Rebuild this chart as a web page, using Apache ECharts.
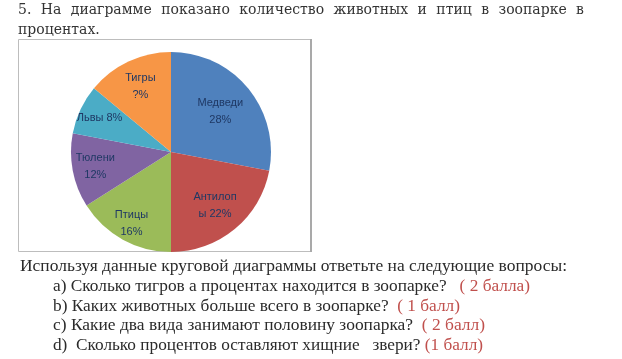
<!DOCTYPE html>
<html>
<head>
<meta charset="utf-8">
<script src="https://cdn.jsdelivr.net/npm/echarts@6/dist/echarts.min.js"></script>
<style>
  html, body { margin: 0; padding: 0; background: #fff; }
  #chart { position: absolute; left: 0; top: 0; width: 622px; height: 359px; }
</style>
</head>
<body>
<div id="chart"></div>
<script>
// ---- data ----
const categories = ['Медведи', 'Антилопы', 'Птицы', 'Тюлени', 'Львы', 'Тигры'];
const values = [28, 22, 16, 12, 8, 14];
const labelTexts = ['Медведи\n28%', 'Антилоп\nы 22%', 'Птицы\n16%', 'Тюлени\n12%', 'Львы 8%', 'Тигры\n?%'];

// ---- document text ----
const titleLine1 = '5. На диаграмме показано количество животных и птиц в зоопарке в';
const titleLine2 = 'процентах.';
const questionIntro = 'Используя данные круговой диаграммы ответьте на следующие вопросы:';
const questions = [
  ['а) Сколько тигров а процентах находится в зоопарке?   ', '( 2 балла)'],
  ['b) Каких животных больше всего в зоопарке?  ', '( 1 балл)'],
  ['c) Какие два вида занимают половину зоопарка?  ', '( 2 балл)'],
  ['d)  Сколько процентов оставляют хищние   звери? ', '(1 балл)']
];

// ---- styling (not data) ----
const colors = ['#4f81bd', '#c0504d', '#9bbb59', '#8064a2', '#4bacc6', '#f79646'];
const labelDistance = [64, 69, 82, 77, 79, 72];
const CX = 171, CY = 152, R = 100;
const SERIF = 'Liberation Serif';
const TITLE_FONT = 'DejaVu Serif';
const textColor = '#2b2b2b';
const redColor = '#c0504d';

const mctx = document.createElement('canvas').getContext('2d');
function measure(str, size, family) {
  mctx.font = size + 'px "' + family + '"';
  return mctx.measureText(str).width;
}

const graphics = [];
// chart frame
graphics.push({ type: 'rect', z: 0, shape: { x: 18.5, y: 39.5, width: 292, height: 212 },
  style: { fill: 'none', stroke: '#bdbdbd', lineWidth: 1 } });
graphics.push({ type: 'line', z: 0, shape: { x1: 311, y1: 39, x2: 311, y2: 252 },
  style: { stroke: '#a9a9a9', lineWidth: 2 } });

// justified title line 1
(function () {
  const words = titleLine1.split(' ');
  const size = 14;
  const left = 18, right = 584;
  const widths = words.map(w => measure(w, size, TITLE_FONT));
  const total = widths.reduce((a, b) => a + b, 0);
  const gap = (right - left - total) / (words.length - 1);
  let x = left;
  words.forEach((w, i) => {
    graphics.push({ type: 'text', x: x, y: 10, style: { text: w, fontFamily: TITLE_FONT, fontSize: size,
      fill: '#333', verticalAlign: 'middle', align: 'left' } });
    x += widths[i] + gap;
  });
  graphics.push({ type: 'text', x: left, y: 30, style: { text: titleLine2, fontFamily: TITLE_FONT, fontSize: size,
    fill: '#333', verticalAlign: 'middle', align: 'left' } });
})();

// question lines, each fitted to the width seen in the reference
const qSize = 17;
const lineSpecs = [
  { x: 20, y: 267, w: 547 },
  { x: 53, y: 287, w: 477 },
  { x: 53, y: 307, w: 407 },
  { x: 53, y: 326, w: 432 },
  { x: 53, y: 346, w: 430 }
];
function pushLine(spec, main, red) {
  const full = main + (red || '');
  const k = spec.w / measure(full, qSize, SERIF);
  graphics.push({
    type: 'text', x: spec.x, y: spec.y, scaleX: k,
    style: {
      text: red ? main + '{r|' + red + '}' : main,
      fontFamily: SERIF, fontSize: qSize, fill: textColor,
      verticalAlign: 'middle', align: 'left',
      rich: { r: { fill: redColor, fontFamily: SERIF, fontSize: qSize } }
    }
  });
}
pushLine(lineSpecs[0], questionIntro, null);
questions.forEach((q, i) => pushLine(lineSpecs[i + 1], q[0], q[1]));

const chart = echarts.init(document.getElementById('chart'), null, { renderer: 'canvas' });
const pieData = categories.map((c, i) => ({ name: c, value: values[i] }));
chart.setOption({
  animation: false,
  color: colors,
  graphic: graphics,
  series: [{
    type: 'pie',
    z: 5,
    center: [CX, CY],
    radius: [0, R],
    startAngle: 90,
    clockwise: true,
    silent: true,
    itemStyle: { borderWidth: 0 },
    labelLine: { show: false },
    label: {
      show: true,
      position: 'inside',
      formatter: p => labelTexts[p.dataIndex],
      color: '#1f3864',
      fontFamily: 'Liberation Sans, Arial, sans-serif',
      fontSize: 11,
      lineHeight: 17
    },
    labelLayout: function (p) {
      const r = p.labelRect;
      const lx = r.x + r.width / 2, ly = r.y + r.height / 2;
      const dx = lx - CX, dy = ly - CY;
      const d = Math.sqrt(dx * dx + dy * dy) || 1;
      const t = labelDistance[p.dataIndex];
      return { x: CX + dx / d * t, y: CY + dy / d * t, align: 'center', verticalAlign: 'middle' };
    },
    data: pieData
  }]
});
</script>
</body>
</html>
